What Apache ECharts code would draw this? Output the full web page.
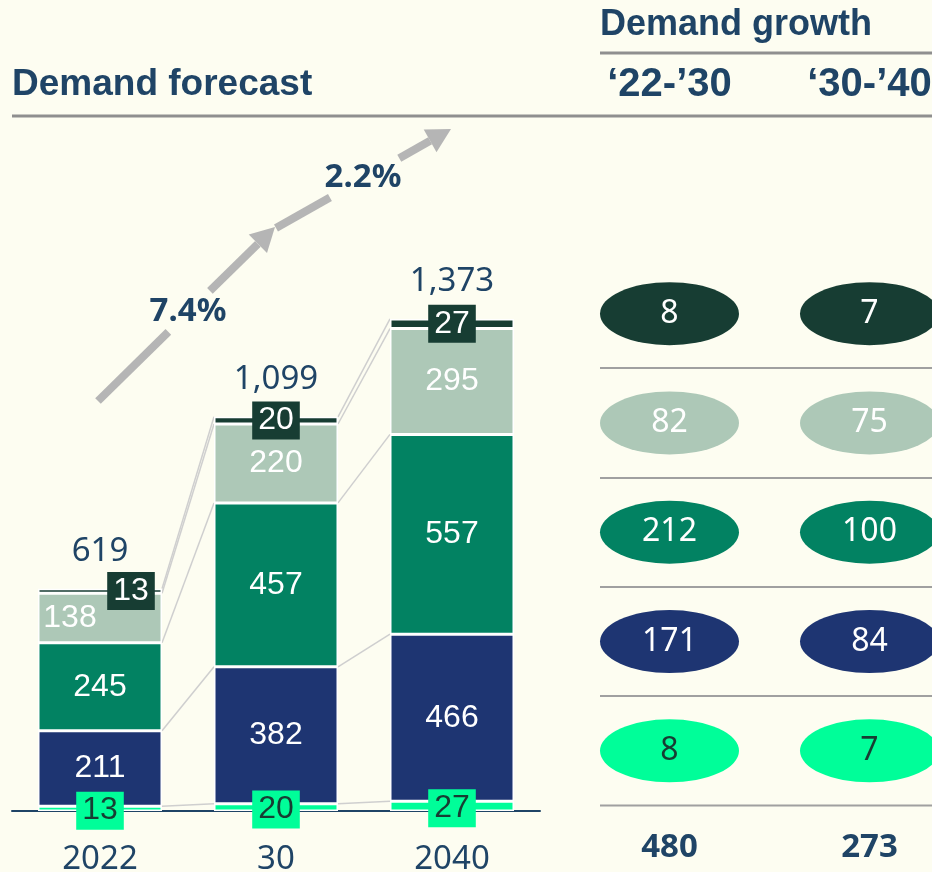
<!DOCTYPE html>
<html>
<head>
<meta charset="utf-8">
<title>Demand forecast</title>
<script src="https://cdn.jsdelivr.net/npm/echarts@6/dist/echarts.min.js"></script>
<style>
  html, body { margin: 0; padding: 0; background: #fdfdf1; }
  #chart { width: 932px; height: 872px; }
</style>
</head>
<body>
<div id="chart"></div>
<script>
// forecast bars (bottom to top)
const years = ['2022', '30', '2040'];
const brightVals = [13, 20, 27];
const navyVals = [211, 382, 466];
const greenVals = [245, 457, 557];
const lightVals = [138, 220, 295];
const darkVals = [13, 20, 27];
const totals = [619, 1099, 1373];
const cagrLabels = ['7.4%', '2.2%'];

// growth table (top to bottom)
const periods = ['‘22-’30', '‘30-’40'];
const growthDark = [8, 7];
const growthLight = [82, 75];
const growthGreen = [212, 100];
const growthNavy = [171, 84];
const growthBright = [8, 7];
const growthTotals = ['480', '273'];

const BG = '#fdfdf1';
const NAVY_TXT = '#1f4466';
const C = { bright: '#00fe99', navy: '#1e3572', green: '#028262', light: '#adc8b7', dark: '#173d33' };
const BAR_W = 124;
const numFont = 'Liberation Sans, Arial, sans-serif';
const txtFont = 'Noto Sans, Roboto, sans-serif';
const headFont = 'Liberation Sans, Arial, sans-serif';

const myChart = echarts.init(document.getElementById('chart'));

// connector lines between bar segment boundaries
const layers = [brightVals, navyVals, greenVals, lightVals, darkVals];
const cum = [];
let run = years.map(() => 0);
layers.forEach(l => {
  run = run.map((v, i) => v + l[i]);
  cum.push(run.slice());
});
const connData = [];
cum.forEach(c => {
  for (let i = 0; i < years.length - 1; i++) connData.push([i, c[i], c[i + 1]]);
});

function barSeries(name, vals, color, labelOpt, offsets) {
  return {
    name: name,
    type: 'bar',
    stack: 'demand',
    barWidth: BAR_W,
    z: 3,
    itemStyle: { color: color, borderColor: '#ffffff', borderWidth: 1.5 },
    label: Object.assign({
      show: true,
      position: 'inside',
      color: '#ffffff',
      fontSize: 32,
      fontFamily: numFont
    }, labelOpt || {}),
    data: vals.map((v, i) => offsets && offsets[i] ? { value: v, label: { offset: offsets[i] } } : v)
  };
}

function arrow(x1, y1, x2, y2, gapFrom, gapTo) {
  // gray arrow with a gap (fractions along the line) for the label
  const dx = x2 - x1, dy = y2 - y1;
  const len = Math.sqrt(dx * dx + dy * dy);
  const ux = dx / len, uy = dy / len;
  const headL = 24, headW = 13;
  const bx = x2 - ux * headL, by = y2 - uy * headL;
  const st = { stroke: '#b5b5b5', lineWidth: 8 };
  const pt = f => [x1 + (bx - x1) * f, y1 + (by - y1) * f];
  const a = pt(gapFrom), b = pt(gapTo);
  return [
    { type: 'line', shape: { x1: x1, y1: y1, x2: a[0], y2: a[1] }, style: st },
    { type: 'line', shape: { x1: b[0], y1: b[1], x2: bx, y2: by }, style: st },
    { type: 'polygon', shape: { points: [[x2, y2], [bx - uy * headW, by + ux * headW], [bx + uy * headW, by - ux * headW]] }, style: { fill: '#b5b5b5' } }
  ];
}

const hLine = (x1, y, x2, w, c) => ({ type: 'line', shape: { x1: x1, y1: y, x2: x2, y2: y }, style: { stroke: c, lineWidth: w } });

const rowColors = [C.dark, C.light, C.green, C.navy, C.bright];
const rowVals = [growthDark, growthLight, growthGreen, growthNavy, growthBright];

const growthSeries = rowVals.map((vals, r) => ({
  type: 'scatter',
  xAxisIndex: 1,
  yAxisIndex: 1,
  symbol: 'circle',
  symbolSize: [139, 63],
  itemStyle: { color: rowColors[r], opacity: 1 },
  label: {
    show: true,
    position: 'inside',
    color: r === 4 ? C.dark : '#ffffff',
    fontSize: 32,
    fontFamily: txtFont,
    formatter: p => p.value[2]
  },
  data: vals.map((v, j) => [j, r, v])
}));

myChart.setOption({
  backgroundColor: BG,
  animation: false,
  title: [
    { text: 'Demand forecast', left: 12, top: 66, padding: 0,
      textStyle: { color: NAVY_TXT, fontSize: 37, fontWeight: 'bold', fontFamily: headFont } },
    { text: 'Demand growth', left: 600, top: 7, padding: 0,
      textStyle: { color: NAVY_TXT, fontSize: 36, fontWeight: 'bold', fontFamily: headFont } }
  ],
  grid: [
    { left: 12, width: 528, top: 273, height: 538, outerBoundsMode: 'none', containLabel: false },
    { left: 669.5, width: 200, top: 259, height: 546.5, outerBoundsMode: 'none', containLabel: false }
  ],
  xAxis: [
    {
      type: 'category', gridIndex: 0, data: years,
      axisLine: { lineStyle: { color: NAVY_TXT, width: 2 } },
      axisTick: { show: false },
      axisLabel: { color: NAVY_TXT, fontSize: 33, fontFamily: txtFont, margin: 32 }
    },
    {
      type: 'category', gridIndex: 1, data: periods, position: 'top', boundaryGap: false,
      axisLine: { show: false }, axisTick: { show: false },
      axisLabel: { color: NAVY_TXT, fontSize: 40, fontWeight: 'bold', fontFamily: headFont, margin: 154 }
    },
    {
      type: 'category', gridIndex: 1, data: growthTotals, position: 'bottom', boundaryGap: false,
      axisLine: { show: false }, axisTick: { show: false },
      axisLabel: { color: NAVY_TXT, fontSize: 33, fontWeight: 'bold', fontFamily: txtFont, margin: 26 }
    }
  ],
  yAxis: [
    { type: 'value', gridIndex: 0, min: 0, max: 1500, show: false },
    { type: 'category', gridIndex: 1, data: ['0', '1', '2', '3', '4'], inverse: true, show: false }
  ],
  series: [
    {
      type: 'custom',
      xAxisIndex: 0, yAxisIndex: 0,
      z: 1,
      silent: true,
      renderItem: (params, api) => {
        const p1 = api.coord([api.value(0), api.value(1)]);
        const p2 = api.coord([api.value(0) + 1, api.value(2)]);
        return {
          type: 'line',
          shape: { x1: p1[0] + BAR_W / 2, y1: p1[1], x2: p2[0] - BAR_W / 2, y2: p2[1] },
          style: { stroke: '#cfcfcf', lineWidth: 1.5 }
        };
      },
      data: connData
    },
    barSeries('bright', brightVals, C.bright,
      { color: C.dark, backgroundColor: C.bright, padding: [4, 6, 2, 6], offset: [0, 2] }),
    barSeries('navy', navyVals, C.navy),
    barSeries('green', greenVals, C.green),
    barSeries('light', lightVals, C.light, null, [[-30, 0]]),
    barSeries('dark', darkVals, C.dark,
      { backgroundColor: C.dark, padding: [4, 6, 2, 6] }, [[31, 0]]),
    {
      type: 'scatter',
      xAxisIndex: 0, yAxisIndex: 0,
      symbolSize: 1,
      itemStyle: { color: 'rgba(0,0,0,0)', opacity: 1 },
      label: {
        show: true, position: 'top', distance: 20,
        color: NAVY_TXT, fontSize: 33, fontFamily: txtFont,
        formatter: p => p.value.toLocaleString('en-US')
      },
      data: totals
    }
  ].concat(growthSeries),
  graphic: [
    hLine(600, 53, 932, 3, '#8f8f8f'),
    hLine(12, 116, 932, 3, '#8f8f8f'),
    hLine(600, 368, 932, 2, '#a0a0a0'),
    hLine(600, 478, 932, 2, '#a0a0a0'),
    hLine(600, 587, 932, 2, '#a0a0a0'),
    hLine(600, 696, 932, 2, '#a0a0a0'),
    hLine(600, 805.5, 932, 2, '#a0a0a0')
  ].concat(
    arrow(98, 401, 275, 227, 0.44, 0.7),
    arrow(276, 228, 451, 129, 0.35, 0.8),
    [
      { type: 'text', x: 188, y: 312, style: { text: cagrLabels[0], fill: NAVY_TXT, font: 'bold 33px ' + txtFont, align: 'center', verticalAlign: 'middle' } },
      { type: 'text', x: 363, y: 178, style: { text: cagrLabels[1], fill: NAVY_TXT, font: 'bold 33px ' + txtFont, align: 'center', verticalAlign: 'middle' } }
    ]
  )
});
</script>
</body>
</html>
